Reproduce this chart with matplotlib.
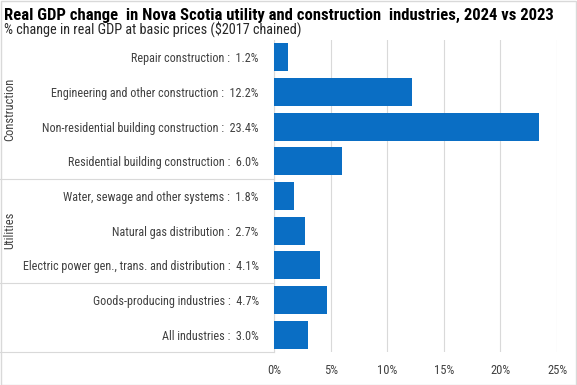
import matplotlib.pyplot as plt
import matplotlib.transforms as mtransforms
from matplotlib.patches import Rectangle

plt.rcParams['font.family'] = ['Roboto Condensed', 'DejaVu Sans']

industries = ['Repair construction', 'Engineering and other construction',
              'Non-residential building construction', 'Residential building construction',
              'Water, sewage and other systems', 'Natural gas distribution',
              'Electric power gen., trans. and distribution',
              'Goods-producing industries', 'All industries']
pct_change = [1.2, 12.2, 23.4, 6.0, 1.8, 2.7, 4.1, 4.7, 3.0]
groups = ['Construction', 'Utilities']
group_rows = [(0, 3), (4, 6)]
xticks = [0, 5, 10, 15, 20, 25]

blue = '#0A6EC4'
grid = '#D9D9D9'

fig = plt.figure(figsize=(5.77, 3.85), dpi=100)
ax = fig.add_axes([274/577, 1-352/385, 283/577, 312/385])

ypos = list(range(len(industries)))
ax.barh(ypos, pct_change, height=0.8, color=blue, zorder=3)
ax.set_ylim(len(industries)-0.5, -0.5)
ax.set_xlim(0, 25)
ax.set_xticks(xticks)
ax.set_xticklabels([f'{t}%' for t in xticks], fontsize=9, color='#404040')
ax.set_yticks(ypos)
ax.set_yticklabels([f'{n} :  {v:.1f}%' for n, v in zip(industries, pct_change)],
                   fontsize=8.7, color='#404040')
ax.tick_params(axis='both', length=0)
ax.tick_params(axis='y', pad=11)
ax.tick_params(axis='x', pad=9)
ax.grid(axis='x', color=grid, linewidth=0.8, zorder=0)
for s in ['top', 'right', 'bottom']:
    ax.spines[s].set_visible(False)
ax.spines['left'].set_color(grid)

# group separators and labels
tr = mtransforms.blended_transform_factory(fig.transFigure, ax.transData)
for y in [3.5, 6.5, 8.5]:
    ax.plot([0, 274/577], [y, y], transform=tr, color=grid, linewidth=0.8, clip_on=False)
for g, (a, b) in zip(groups, group_rows):
    ax.text(10/577, (a+b)/2, g, transform=tr, rotation=90, ha='center', va='center',
            fontsize=9, color='#404040')

fig.text(4/577, 1-15/385, 'Real GDP change  in Nova Scotia utility and construction  industries, 2024 vs 2023',
         fontsize=12, fontweight='bold', va='center', color='#000000')
fig.text(4/577, 1-29/385, '% change in real GDP at basic prices ($2017 chained)',
         fontsize=10.3, va='center', color='#262626')
fig.patches.append(Rectangle((0.001, 0.001), 0.997, 0.997, transform=fig.transFigure,
                             fill=False, edgecolor=grid, linewidth=1))

fig.savefig('out.png', dpi=100)
